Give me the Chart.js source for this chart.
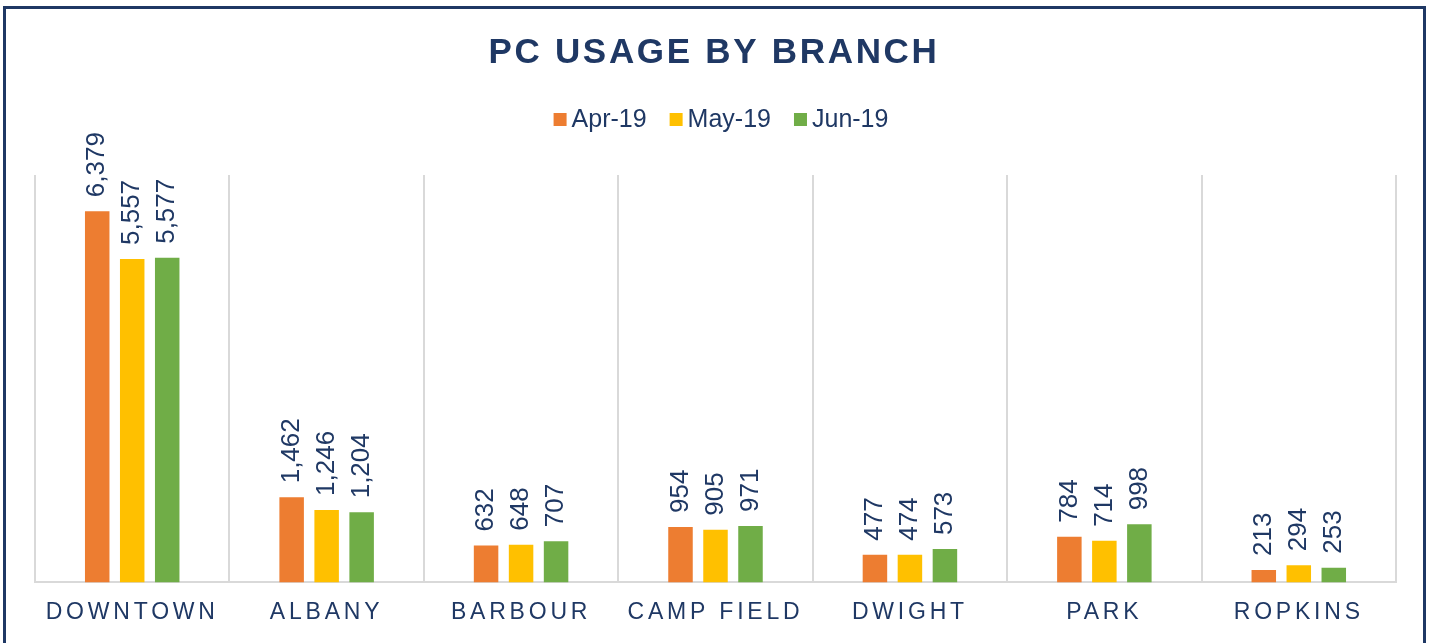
<!DOCTYPE html>
<html lang="en">
<head>
    <meta charset="UTF-8">
    <meta name="viewport" content="width=device-width, initial-scale=1.0">
    <title>PC Usage by Branch</title>
    <script src="https://cdn.jsdelivr.net/npm/chart.js"></script>
    <style>
        html, body {
            margin: 0;
            padding: 0;
            background: #fff;
            overflow: hidden;
        }

        #frame {
            position: absolute;
            left: 3px;
            top: 6px;
            width: 1417px;
            height: 700px;
            border: 3px solid #1f3864;
        }

        #wrap {
            position: absolute;
            left: 0;
            top: 0;
            width: 1431px;
            height: 643px;
        }
    </style>
</head>
<body>
    <div id="frame"></div>
    <div id="wrap"><canvas id="usageChart"></canvas></div>

    <script>
        // Chart data
        const branches = ["DOWNTOWN", "ALBANY", "BARBOUR", "CAMP FIELD", "DWIGHT", "PARK", "ROPKINS"];
        const months = ["Apr-19", "May-19", "Jun-19"];
        const apr19 = [6379, 1462, 632, 954, 477, 784, 213];
        const may19 = [5557, 1246, 648, 905, 474, 714, 294];
        const jun19 = [5577, 1204, 707, 971, 573, 998, 253];
        const barColors = ["#ED7D31", "#FFC000", "#70AD47"];

        const navy = "#1F3864";
        const fontFamily = "'Liberation Sans', Arial, sans-serif";

        // Rotated value labels above each bar, then letter spacing for the x tick labels drawn after
        const barLabels = {
            id: "barLabels",
            afterDatasetsDraw(chart) {
                const ctx = chart.ctx;
                chart.data.datasets.forEach((dataset, i) => {
                    chart.getDatasetMeta(i).data.forEach((bar, j) => {
                        ctx.save();
                        ctx.translate(bar.x, bar.y - 14);
                        ctx.rotate(-Math.PI / 2);
                        ctx.font = "26px " + fontFamily;
                        ctx.fillStyle = navy;
                        ctx.textAlign = "left";
                        ctx.textBaseline = "middle";
                        ctx.fillText(dataset.data[j].toLocaleString("en-US"), 0, 0);
                        ctx.restore();
                    });
                });
                ctx.letterSpacing = "3.8px";
            }
        };

        // Title and legend at the top
        const header = {
            id: "header",
            afterDraw(chart) {
                const ctx = chart.ctx;
                ctx.letterSpacing = "0px";

                ctx.save();
                ctx.letterSpacing = "2.7px";
                ctx.font = "bold 35px " + fontFamily;
                ctx.fillStyle = navy;
                ctx.textAlign = "center";
                ctx.textBaseline = "middle";
                ctx.fillText("PC USAGE BY BRANCH", 714, 53);
                ctx.restore();

                ctx.save();
                ctx.font = "25px " + fontFamily;
                ctx.textAlign = "left";
                ctx.textBaseline = "middle";
                const box = 13, gap = 5, spacing = 23;
                const items = chart.data.datasets.map(ds => ({
                    text: ds.label,
                    color: ds.backgroundColor,
                    width: box + gap + ctx.measureText(ds.label).width
                }));
                const total = items.reduce((s, it) => s + it.width, 0) + spacing * (items.length - 1);
                let x = 721 - total / 2;
                const y = 120;
                items.forEach(it => {
                    ctx.fillStyle = it.color;
                    ctx.fillRect(x, y - 7, box, box);
                    ctx.fillStyle = navy;
                    ctx.fillText(it.text, x + box + gap, y);
                    x += it.width + spacing;
                });
                ctx.restore();
            }
        };

        const ctx = document.getElementById("usageChart").getContext("2d");
        const usageChart = new Chart(ctx, {
            type: "bar",
            data: {
                labels: branches,
                datasets: [
                    { label: months[0], data: apr19, backgroundColor: barColors[0] },
                    { label: months[1], data: may19, backgroundColor: barColors[1] },
                    { label: months[2], data: jun19, backgroundColor: barColors[2] },
                ],
            },
            options: {
                responsive: true,
                maintainAspectRatio: false,
                animation: false,
                events: [],
                layout: {
                    padding: { top: 175, left: 35, right: 35, bottom: 1 },
                },
                datasets: {
                    bar: {
                        categoryPercentage: 0.54,
                        barPercentage: 0.7,
                    },
                },
                plugins: {
                    legend: { display: false },
                    title: { display: false },
                    tooltip: { enabled: false },
                },
                scales: {
                    x: {
                        grid: {
                            color: "#D9D9D9",
                            lineWidth: 2,
                            drawTicks: false,
                            offset: true,
                        },
                        border: { color: "#D9D9D9", width: 2 },
                        ticks: {
                            color: navy,
                            font: { family: fontFamily, size: 23 },
                            padding: 16,
                            z: 1,
                            autoSkip: false,
                            maxRotation: 0,
                        },
                    },
                    y: {
                        display: false,
                        min: 0,
                        max: 7000,
                    },
                },
            },
            plugins: [barLabels, header],
        });
    </script>
</body>
</html>
